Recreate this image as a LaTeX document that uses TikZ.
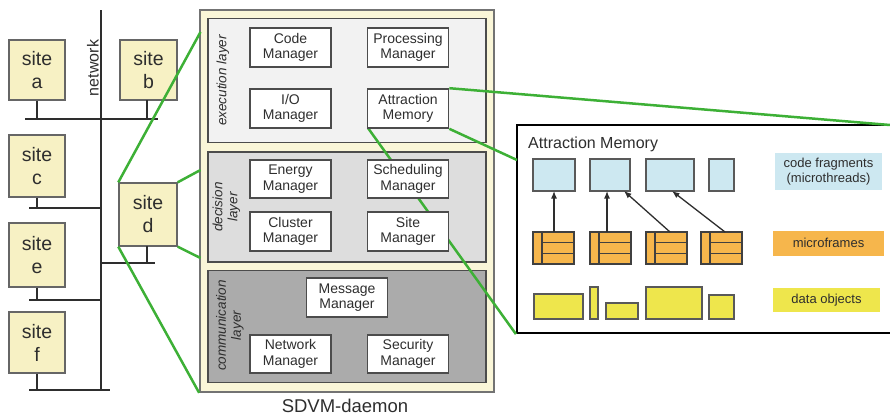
\documentclass[tikz,border=0pt]{standalone}
\usepackage{fontspec}
\setmainfont{Liberation Sans}
\usetikzlibrary{arrows.meta,calc}

\definecolor{sitefill}{HTML}{F7F1C4}
\definecolor{daemonfill}{HTML}{FAF6D8}
\definecolor{execfill}{HTML}{F2F2F2}
\definecolor{decfill}{HTML}{DDDDDD}
\definecolor{commfill}{HTML}{ABABAB}
\definecolor{linkgreen}{HTML}{3DB036}
\definecolor{inkgray}{HTML}{2E2E2E}
\definecolor{codeblue}{HTML}{CDE8F1}
\definecolor{frameorange}{HTML}{F6B64C}
\definecolor{datayellow}{HTML}{EEE64C}

\tikzset{
  sitebox/.style={draw=black!60, line width=1.4pt, fill=sitefill, align=center,
    font=\fontsize{19.5}{23}\selectfont, text=inkgray, inner sep=0pt},
  bus/.style={draw=inkgray, line width=1.8pt},
  layerbox/.style={draw=black!70, line width=1.7pt},
  layerlabel/.style={rotate=90, align=center, text=inkgray,
    font=\itshape\fontsize{13.5}{15}\selectfont},
  mgr/.style={draw=black!70, line width=1.6pt, fill=white, align=center,
    minimum width=81pt, minimum height=39pt, inner sep=0pt, text=inkgray,
    font=\fontsize{14}{15.5}\selectfont},
  greenlink/.style={draw=linkgreen, line width=2.5pt},
  codefrag/.style={draw=black!65, line width=1.5pt, fill=codeblue},
  mframe/.style={draw=black!75, line width=1.5pt, fill=frameorange},
  mframeline/.style={draw=black!75, line width=1.5pt},
  dataobj/.style={draw=black!65, line width=1.5pt, fill=datayellow},
  legend/.style={align=center, text=inkgray, inner sep=0pt,
    font=\fontsize{13}{15}\selectfont},
  pointer/.style={draw=inkgray, line width=1.3pt, -{Latex[length=7.5pt,width=6pt]}}
}

\begin{document}
\begin{tikzpicture}[x=1pt, y=-1pt]
\useasboundingbox (0,0) rectangle (890,415);

% ---------- sites on the network ----------
\node[sitebox, minimum width=56pt, minimum height=60pt] (sa) at (37,70) {site\\a};
\node[sitebox, minimum width=57pt, minimum height=60pt] (sb) at (148.5,70) {site\\b};
\node[sitebox, minimum width=56pt, minimum height=62pt] (sc) at (37,166) {site\\c};
\node[sitebox, minimum width=58pt, minimum height=63pt] (sd) at (148,214.5) {site\\d};
\node[sitebox, minimum width=56pt, minimum height=64pt] (se) at (37,255) {site\\e};
\node[sitebox, minimum width=56pt, minimum height=61pt] (sf) at (37,342.5) {site\\f};

% network backbone and taps
\coordinate (nettop) at (101,10);
\coordinate (netbot) at (101,390);
\draw[bus] (nettop) -- (netbot);
\node[rotate=90, text=inkgray, font=\fontsize{16}{18}\selectfont, inner sep=0pt]
  (netlabel) at (93,68) {network};

\coordinate (busAl) at (25,119);  \coordinate (busAr) at (158,119);
\draw[bus] (busAl) -- (busAr);
\draw[bus] (sa.south) coordinate (ta) -- (ta |- busAl);
\draw[bus] (147,100) coordinate (tb) -- (tb |- busAl);

\coordinate (busC) at (29,208);
\draw[bus] (busC) -- (nettop |- busC);
\draw[bus] (sc.south) coordinate (tc) -- (tc |- busC);

\coordinate (busD) at (155,263);
\draw[bus] (nettop |- busD) -- (busD);
\draw[bus] (147,246) coordinate (td) -- (td |- busD);

\coordinate (busE) at (29,300);
\draw[bus] (busE) -- (nettop |- busE);
\draw[bus] (se.south) coordinate (te) -- (te |- busE);

\coordinate (busF) at (29,390);
\draw[bus] (busF) -- (110,390);
\draw[bus] (sf.south) coordinate (tf) -- (tf |- busF);

% ---------- SDVM daemon ----------
\node[draw=black!55, line width=1.7pt, fill=daemonfill, minimum width=294pt,
  minimum height=382pt, inner sep=0pt] (daemon) at (347,201) {};
\node[text=inkgray, font=\fontsize{18.5}{20}\selectfont, anchor=base, inner sep=0pt]
  (daemonlabel) at (345,412) {SDVM-daemon};

% zoom lines from site d onto the daemon
\coordinate (zA) at (200.5,32);
\coordinate (zB) at (200.5,170);
\coordinate (zC) at (200.5,258);
\draw[greenlink] (sd.north west) -- (zA);
\draw[greenlink] (sd.north east) -- (zB);
\draw[greenlink] (sd.south east) -- (zC);
\draw[greenlink] (sd.south west) -- (daemon.south west);

% layers
\node[layerbox, fill=execfill, minimum width=278pt, minimum height=124pt, inner sep=0pt]
  (exec) at (347,80.5) {};
\node[layerbox, fill=decfill, minimum width=278pt, minimum height=110pt, inner sep=0pt]
  (dec) at (347,207) {};
\node[layerbox, fill=commfill, minimum width=278pt, minimum height=112pt, inner sep=0pt]
  (comm) at (347,326.5) {};

\node[layerlabel] (execlabel) at (223,80.5) {execution layer};
\node[layerlabel] (declabel) at (226.5,207) {decision\\layer};
\node[layerlabel] (commlabel) at (230,325.5) {communication\\layer};

% centre of the attraction memory box
\coordinate (am0) at (408,108.5);

% detail box of the attraction memory
\node[draw=black, line width=2.2pt, fill=white, minimum width=375pt, minimum height=208pt,
  inner sep=0pt] (detail) at (704.5,229) {};
\coordinate (detailNE) at (890,125);
\coordinate (detailW) at (517,160);

% link from the attraction memory to its detail view (runs behind the manager boxes)
\draw[greenlink] ($(am0)+(-40,19.5)$) -- (detail.south west);

% manager boxes
\node[mgr] (code) at (290.5,47.5) {Code\\Manager};
\node[mgr] (proc) at (408,47.5) {Processing\\Manager};
\node[mgr] (io) at (290.5,108.5) {I/O\\Manager};
\node[mgr] (am) at (am0) {Attraction\\Memory};
\node[mgr, minimum height=38pt] (energy) at (290.5,179) {Energy\\Manager};
\node[mgr, minimum height=38pt] (sched) at (408,179) {Scheduling\\Manager};
\node[mgr] (cluster) at (290.5,231.5) {Cluster\\Manager};
\node[mgr] (site) at (408,231.5) {Site\\Manager};
\node[mgr] (msg) at (347,297.5) {Message\\Manager};
\node[mgr, minimum height=38pt] (net) at (290.5,354) {Network\\Manager};
\node[mgr, minimum height=38pt] (sec) at (408,354) {Security\\Manager};

\draw[greenlink] (am.north east) -- (detailNE);
\draw[greenlink] (am.south east) -- (detailW);

% ---------- inside the attraction memory ----------
\node[anchor=base west, text=inkgray, font=\fontsize{16}{17}\selectfont, inner sep=0pt]
  (amtitle) at (528,148) {Attraction Memory};

% code fragments
\draw[codefrag] (533,159) rectangle (575,191);
\draw[codefrag] (590,159) rectangle (630,191);
\draw[codefrag] (646,159) rectangle (694,191);
\draw[codefrag] (709,159) rectangle (734,191);
\coordinate (cf1) at (554,191);
\coordinate (cf2) at (607,191);
\coordinate (cf2b) at (624,191);
\coordinate (cf3) at (672,191);

% microframes: a narrow left column and three stacked slots
\foreach \x in {533, 590, 646, 701} {
  \draw[mframe] (\x,232) rectangle ++(41,32);
  \draw[mframeline] (\x+9,232) -- (\x+9,264);
  \draw[mframeline] (\x+9,242.7) -- (\x+41,242.7);
  \draw[mframeline] (\x+9,253.3) -- (\x+41,253.3);
}
\coordinate (mf1) at (554,232);
\coordinate (mf2) at (607,232);
\coordinate (mf3) at (670,232);
\coordinate (mf4) at (725,232);
\draw[pointer] (mf1) -- (cf1);
\draw[pointer] (mf2) -- (cf2);
\draw[pointer] (mf3) -- (cf2b);
\draw[pointer] (mf4) -- (cf3);

% data objects
\draw[dataobj] (534,294) rectangle (583,319);
\draw[dataobj] (590,287) rectangle (598,319);
\draw[dataobj] (606,303) rectangle (638,319);
\draw[dataobj] (646,287) rectangle (702,319);
\draw[dataobj] (709,295) rectangle (734,319);

% legend
\node[legend, fill=codeblue, minimum width=107pt, minimum height=37pt]
  (lgcode) at (828.5,171.5) {code fragments\\(microthreads)};
\node[legend, fill=frameorange, minimum width=111pt, minimum height=25pt]
  (lgframe) at (828.5,243) {microframes};
\node[legend, fill=datayellow, minimum width=107pt, minimum height=24pt]
  (lgdata) at (826.5,300) {data objects};

\end{tikzpicture}
\end{document}
